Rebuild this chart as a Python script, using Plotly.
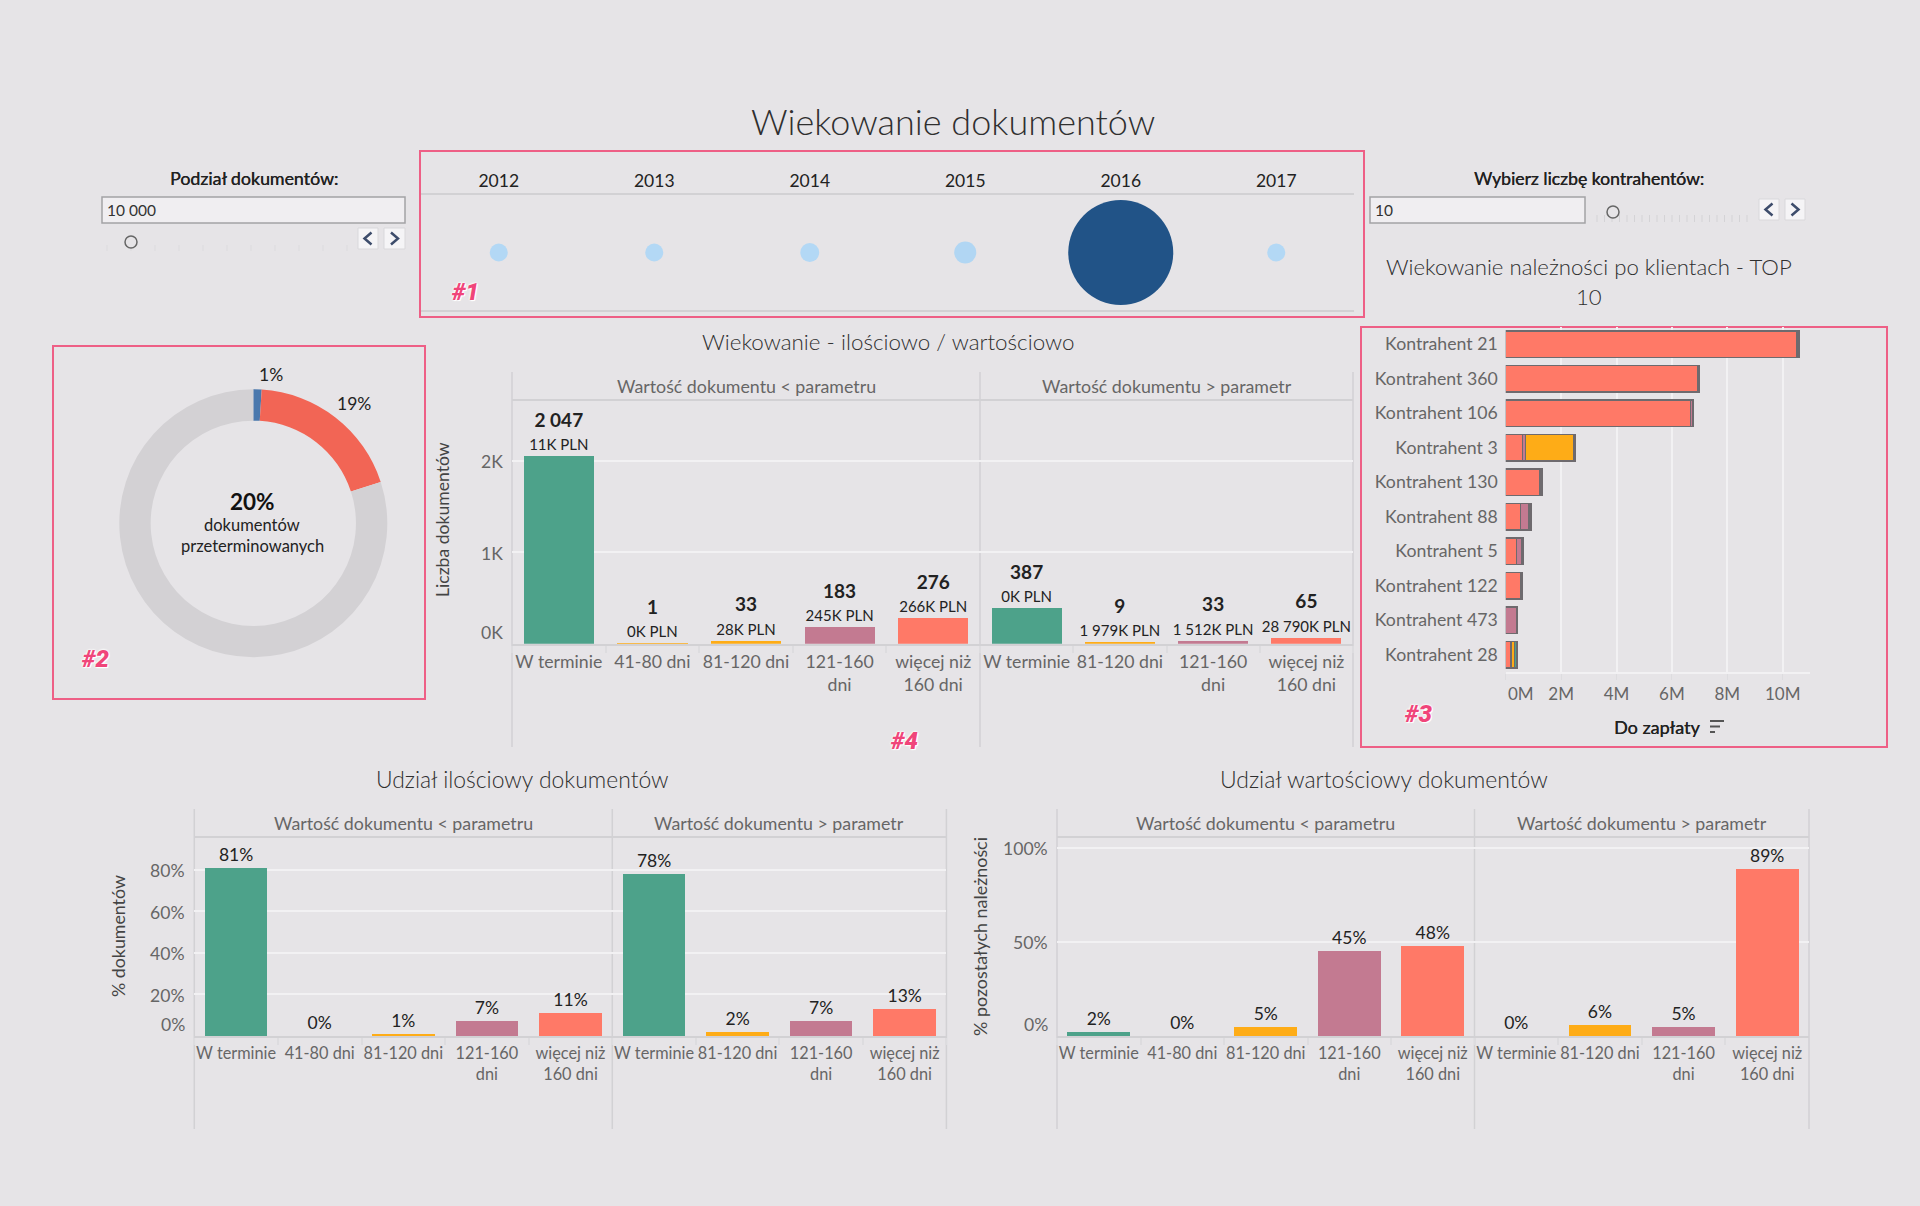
import plotly.graph_objects as go

W = 1920
H = 1206
FONT = "Lato"
BG = "#e6e4e7"
PINK_BOX = "#ee5f86"
LINE = "#d2d1d4"
GRID = "#f2f1f3"
DARK = "#2b2b2b"
GRAY = "#666666"
TITLE = "#2f2f2f"
TAG_HALO = "0 0 2px #fff, 0 0 2px #fff, 0 0 3px #fff, 1px 1px 0 #fff"

# data
years = ["2012", "2013", "2014", "2015", "2016", "2017"]
year_weight = [3, 3, 3.3, 4.5, 102, 3]

donut_labels = ["41-80 dni", "Przeterminowane", "Pozostałe"]
donut_values = [1, 19, 80]
donut_colors = ["#4a78ad", "#f26555", "#d3d1d4"]

cats_left = ["W terminie", "41-80 dni", "81-120 dni", "121-160<br>dni", "więcej niż<br>160 dni"]
cats_right = ["W terminie", "81-120 dni", "121-160<br>dni", "więcej niż<br>160 dni"]
colors_left = ["#4da28a", "#feac17", "#feac17", "#c37a91", "#ff7967"]
colors_right = ["#4da28a", "#feac17", "#c37a91", "#ff7967"]

count_left = [2047, 1, 33, 183, 276]
count_right = [387, 9, 33, 65]
count_left_text = ["2 047", "1", "33", "183", "276"]
count_right_text = ["387", "9", "33", "65"]
pln_left = ["11K PLN", "0K PLN", "28K PLN", "245K PLN", "266K PLN"]
pln_right = ["0K PLN", "1 979K PLN", "1 512K PLN", "28 790K PLN"]

qty_left = [81, 0, 1, 7, 11]
qty_right = [78, 2, 7, 13]
val_left = [2, 0, 5, 45, 48]
val_right = [0, 6, 5, 89]

clients = ["Kontrahent 21", "Kontrahent 360", "Kontrahent 106", "Kontrahent 3", "Kontrahent 130",
           "Kontrahent 88", "Kontrahent 5", "Kontrahent 122", "Kontrahent 473", "Kontrahent 28"]
client_over160 = [10.52, 6.95, 6.68, 0.61, 1.24, 0.53, 0.39, 0.55, None, 0.19]
client_121_160 = [0.07, 0.02, 0.09, 0.10, 0.07, 0.31, 0.20, 0.06, 0.40, None]
client_81_120 = [None, None, None, 1.75, None, None, None, None, None, 0.12]
client_on_time = [None, None, None, 0.05, None, 0.07, 0.06, None, None, 0.10]


def fx(p):
    return p / W


def fy(p):
    return 1 - p / H


shapes = []
annotations = []


def line(x0, y0, x1, y1, color=LINE, width=1.5):
    shapes.append(dict(type="line", xref="paper", yref="paper", x0=fx(x0), y0=fy(y0), x1=fx(x1), y1=fy(y1),
                       line=dict(color=color, width=width), layer="below"))


def rect(x0, y0, x1, y1, color, width=1.5, fill="rgba(0,0,0,0)"):
    shapes.append(dict(type="rect", xref="paper", yref="paper", x0=fx(x0), y0=fy(y0), x1=fx(x1), y1=fy(y1),
                       line=dict(color=color, width=width), fillcolor=fill, layer="below"))


def text(x, y, s, size=16, color=DARK, anchor="center", family=FONT, angle=0, shadow=None, weight=None):
    f = dict(size=size, color=color, family=family)
    if shadow:
        f["shadow"] = shadow
    if weight:
        f["weight"] = weight
    annotations.append(dict(xref="paper", yref="paper", x=fx(x), y=fy(y), text=s, showarrow=False, font=f,
                            xanchor=anchor, yanchor="middle", textangle=angle))


def tag(x, y, s):
    annotations.append(dict(xref="paper", yref="paper", x=fx(x), y=fy(y), text=s, showarrow=False,
                            font=dict(size=24, color="#f0457a", family="Roboto", weight=900, style="italic",
                                      shadow=TAG_HALO),
                            xanchor="center", yanchor="middle"))


def chevron(cx, cy, direction):
    d = 3.5 * direction
    path = "M %f %f L %f %f L %f %f" % (fx(cx - d), fy(cy - 6), fx(cx + d), fy(cy), fx(cx - d), fy(cy + 6))
    shapes.append(dict(type="path", xref="paper", yref="paper", path=path, line=dict(color="#3d4c6b", width=2.5)))


def parameter_box(x0, x1, value):
    rect(x0, 197, x1, 223, "#a3a2a5", 1.5, "#f0eef1")
    text(x0 + 3, 210, value, 15.5, "#333333", "left")


def step_button(x0, x1, y0, y1, direction):
    rect(x0, y0, x1, y1, "#d9d8db", 1, "#f5f4f6")
    chevron((x0 + x1) / 2, (y0 + y1) / 2, direction)


def slider_handle(x, y):
    shapes.append(dict(type="circle", xref="paper", yref="paper", x0=fx(x - 6), x1=fx(x + 6), y0=fy(y - 6),
                       y1=fy(y + 6), line=dict(color="#666666", width=1.5), fillcolor=BG))


def num_label(yaxis, value, s, right_px, shift=0):
    # tick labels of the value axes, Tableau pushes the last one up so they are placed by hand
    annotations.append(dict(xref="paper", yref=yaxis, x=fx(right_px), y=value, text=s, showarrow=False,
                            font=dict(size=17.6, color=GRAY, family=FONT), xanchor="right", yanchor="middle",
                            yshift=shift))


fig = go.Figure()
layout_axes = {}


def facet_axes(n, x0, x1, y_top, y_base, y_max, gridvals):
    layout_axes["xaxis%d" % n] = dict(domain=[fx(x0), fx(x1)], anchor="y%d" % n, type="category", tickson="boundaries",
                                      ticks="outside", ticklen=7, tickcolor="#dddcdf", tickwidth=1.5, tickangle=0,
                                      showgrid=False, showline=True, linecolor=LINE, linewidth=2, zeroline=False,
                                      tickfont=dict(size=17.7 if n < 5 else 16.3, color=GRAY, family=FONT), dtick=1,
                                      ticklabelstandoff=1)
    layout_axes["yaxis%d" % n] = dict(domain=[fy(y_base), fy(y_top)], anchor="x%d" % n, range=[0, y_max],
                                      tickmode="array", tickvals=gridvals, showticklabels=False, gridcolor=GRID,
                                      gridwidth=1.5, zeroline=False, showline=False, ticks="")


def facet_bars(n, cats, values, colors, labels, size):
    fig.add_trace(go.Bar(x=cats, y=values, marker=dict(color=colors, line=dict(width=0)),
                         text=labels, textposition="outside", constraintext="none", cliponaxis=False,
                         textfont=dict(size=size, color="#222222", family=FONT), textangle=0,
                         xaxis="x%d" % n, yaxis="y%d" % n, showlegend=False))


def panel_frame(x_left, x_mid, x_right, y_top, y_header, y_bottom, y_title_px):
    line(x_left, y_top, x_left, y_bottom)
    line(x_mid, y_top, x_mid, y_bottom)
    line(x_right, y_top, x_right, y_bottom)
    line(x_left, y_header, x_right, y_header, LINE, 2)
    text((x_left + x_mid) / 2, y_title_px, "Wartość dokumentu &lt; parametru", 17.8, GRAY)
    text((x_mid + x_right) / 2, y_title_px, "Wartość dokumentu &gt; parametr", 17.8, GRAY)


def count_labels(counts, values):
    return ["<b style='font-size:19px'>%s</b><br><span style='font-size:15px'>%s</span>" % p
            for p in zip(counts, values)]


# header row
text(953, 121, "Wiekowanie dokumentów", 36, TITLE, weight=300)
text(254, 178, "Podział dokumentów:", 17.8, "#222222", shadow="0.3px 0 0 #222222")
parameter_box(102, 405, "10 000")
slider_handle(131, 242)
for i in range(11):
    line(107 + i * 24, 245, 107 + i * 24, 251, "#dcdbde", 1)
step_button(358, 378, 228, 249, -1)
step_button(384, 405, 228, 249, 1)

text(1589, 178, "Wybierz liczbę kontrahentów:", 17.6, "#222222", shadow="0.3px 0 0 #222222")
parameter_box(1370, 1585, "10")
slider_handle(1613, 212)
for i in range(21):
    line(1597 + i * 7.5, 215, 1597 + i * 7.5, 222, "#d4d3d6", 1)
step_button(1759, 1779, 199, 220, -1)
step_button(1785, 1805, 199, 220, 1)

# 1: years
rect(420, 151, 1364, 317, PINK_BOX, 2)
fig.add_trace(go.Scatter(x=years, y=[0] * len(years), mode="markers", xaxis="x", yaxis="y", showlegend=False,
                         cliponaxis=False,
                         marker=dict(size=year_weight, sizemode="area", sizeref=0.0185, color=year_weight, opacity=1,
                                     colorscale=[[0, "#b3d8f5"], [1, "#215387"]], line=dict(width=0))))
layout_axes["xaxis"] = dict(domain=[fx(421), fx(1354)], anchor="y", type="category", side="top", showgrid=False,
                            showline=True, mirror=True, linecolor=LINE, linewidth=1.5, zeroline=False, ticks="",
                            range=[-0.5, 5.5], ticklabelstandoff=-1,
                            tickfont=dict(size=17.5, color="#222222", family=FONT))
layout_axes["yaxis"] = dict(domain=[fy(310), fy(195)], anchor="x", range=[-1, 1], showgrid=False, zeroline=False,
                            showticklabels=False, ticks="")
tag(465, 292, "#1")

# 2: donut
rect(53, 346, 425, 699, PINK_BOX, 2)
fig.add_trace(go.Pie(labels=donut_labels, values=donut_values, hole=0.766, sort=False, direction="clockwise",
                     rotation=0, textinfo="none", showlegend=False, marker=dict(colors=donut_colors),
                     domain=dict(x=[fx(253.3 - 134), fx(253.3 + 134)], y=[fy(523.3 + 134), fy(523.3 - 134)])))
text(271, 374, "1%", 17.5, "#222222")
text(354, 403, "19%", 17.5, "#222222")
text(252, 501, "<b>20%</b>", 22.5, "#111111")
text(252, 525, "dokumentów", 16.5, "#222222")
text(252, 546, "przeterminowanych", 16.5, "#222222")
tag(95, 659, "#2")

# 4: counts and values
text(888, 342, "Wiekowanie - ilościowo / wartościowo", 22.4, TITLE, weight=300)
panel_frame(512, 980, 1353, 372, 400, 747, 386)
count_scale = 243.7 / 91.5 * 1000
facet_axes(2, 512, 980, 400, 643.7, count_scale, [0, 1000, 2000])
facet_axes(3, 980, 1353, 400, 643.7, count_scale, [0, 1000, 2000])
facet_bars(2, cats_left, count_left, colors_left, count_labels(count_left_text, pln_left), 18)
facet_bars(3, cats_right, count_right, colors_right, count_labels(count_right_text, pln_right), 18)
num_label("y2", 2000, "2K", 505, -1)
num_label("y2", 1000, "1K", 505, -1)
num_label("y2", 0, "0K", 505, 11)
text(442, 520, "Liczba dokumentów", 17.6, "#444444", angle=-90)
tag(904, 741, "#4")

# 3: top 10
text(1589, 267, "Wiekowanie należności po klientach - TOP", 22.2, TITLE, weight=300)
text(1589, 296, "10", 22.2, TITLE, weight=300)
rect(1361, 327, 1887, 747, PINK_BOX, 2)
stack = [("więcej niż 160 dni", client_over160, "#ff7967"), ("121-160 dni", client_121_160, "#c37a91"),
         ("81-120 dni", client_81_120, "#feac17"), ("W terminie", client_on_time, "#4da28a")]
for name, vals, col in stack:
    fig.add_trace(go.Bar(y=clients, x=vals, name=name, orientation="h", xaxis="x4", yaxis="y4", showlegend=False,
                         marker=dict(color=col, line=dict(color="#6e6a6e", width=1.5))))
layout_axes["xaxis4"] = dict(domain=[fx(1505.7), fx(1810)], anchor="y4", range=[0, 304.3 / 27.7], tickmode="array",
                             tickvals=[0, 2, 4, 6, 8, 10], ticktext=["", "2M", "4M", "6M", "8M", "10M"], ticks="outside",
                             ticklen=6, tickcolor="#dddcdf", gridcolor=GRID, gridwidth=1.5, zeroline=False, showline=True,
                             linecolor=GRID, linewidth=1.5, tickfont=dict(size=17, color=GRAY, family=FONT))
layout_axes["yaxis4"] = dict(domain=[fy(672), fy(327)], anchor="x4", type="category", autorange="reversed", ticks="",
                             showgrid=False, zeroline=False, showline=False,
                             tickfont=dict(size=17.7, color=GRAY, family=FONT), ticklabelstandoff=7)
annotations.append(dict(xref="x4", yref="paper", x=0, y=fy(693), xshift=15, text="0M", showarrow=False,
                        font=dict(size=17, color=GRAY, family=FONT), xanchor="center", yanchor="middle"))
text(1657, 727, "Do zapłaty", 18, "#222222", shadow="0.3px 0 0 #222222")
line(1710, 721, 1724, 721, "#555555", 2)
line(1710, 726.5, 1720, 726.5, "#555555", 2)
line(1710, 732, 1715, 732, "#555555", 2)
tag(1418, 714, "#3")

# quantity share
text(522, 779, "Udział ilościowy dokumentów", 22.9, TITLE, weight=300)
panel_frame(194.3, 612.3, 946.4, 809, 837, 1129, 823)
qty_max = 199 / 41.6 * 20
facet_axes(5, 194.3, 612.3, 837, 1036, qty_max, [0, 20, 40, 60, 80])
facet_axes(6, 612.3, 946.4, 837, 1036, qty_max, [0, 20, 40, 60, 80])
facet_bars(5, cats_left, qty_left, colors_left, ["%d%%" % v for v in qty_left], 17.5)
facet_bars(6, cats_right, qty_right, colors_right, ["%d%%" % v for v in qty_right], 17.5)
for v in [80, 60, 40, 20]:
    num_label("y5", v, "%d%%" % v, 187, -1)
num_label("y5", 0, "0%", 187, 12)
text(118, 936, "% dokumentów", 17.8, "#444444", angle=-90)

# value share
text(1384, 779, "Udział wartościowy dokumentów", 23, TITLE, weight=300)
panel_frame(1057, 1474.5, 1809, 809, 837, 1129, 823)
val_max = 199 / 188 * 100
facet_axes(7, 1057, 1474.5, 837, 1036, val_max, [0, 50, 100])
facet_axes(8, 1474.5, 1809, 837, 1036, val_max, [0, 50, 100])
facet_bars(7, cats_left, val_left, colors_left, ["%d%%" % v for v in val_left], 17.5)
facet_bars(8, cats_right, val_right, colors_right, ["%d%%" % v for v in val_right], 17.5)
num_label("y7", 100, "100%", 1050, 0)
num_label("y7", 50, "50%", 1050, 0)
num_label("y7", 0, "0%", 1050, 12)
text(980, 936, "% pozostałych należności", 17.9, "#444444", angle=-90)

fig.update_layout(width=W, height=H, margin=dict(l=0, r=0, t=0, b=0), paper_bgcolor=BG, plot_bgcolor="rgba(0,0,0,0)",
                  barmode="stack", bargap=0.25, shapes=shapes, annotations=annotations,
                  font=dict(family=FONT), **layout_axes)
fig.update_traces(selector=dict(type="bar", orientation="h"), width=0.78)

fig.write_html("out.html", config={"displayModeBar": False},
               post_script="document.body.style.margin='0';document.body.style.overflow='hidden';")
